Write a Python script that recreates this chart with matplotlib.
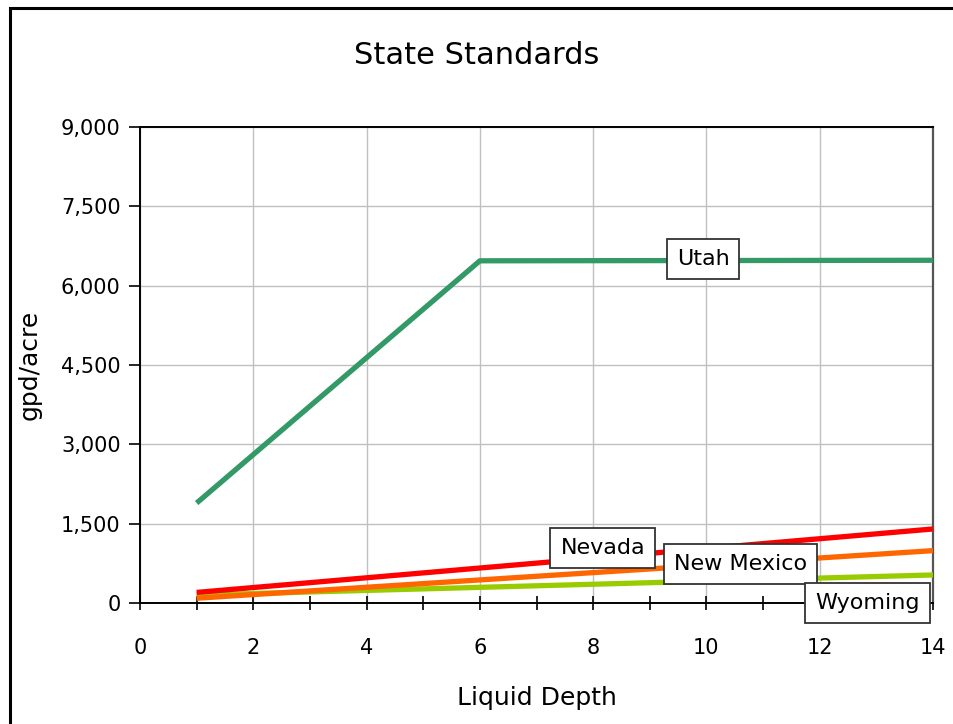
import matplotlib
matplotlib.use("Agg")
import matplotlib.pyplot as plt
from matplotlib.patches import Rectangle
from matplotlib.ticker import FuncFormatter, MultipleLocator

# data (liquid depth -> gpd/acre)
utah_x = [1, 6, 14]
utah_y = [1890, 6470, 6480]
nevada_x = [1, 14]
nevada_y = [200, 1400]
newmex_x = [1, 14]
newmex_y = [90, 990]
wyoming_x = [1, 14]
wyoming_y = [150, 530]

x_ticks = [0, 2, 4, 6, 8, 10, 12, 14]
y_ticks = [0, 1500, 3000, 4500, 6000, 7500, 9000]

# label box anchors (data coords)
label_pos = {
    "Utah": (9.94, 6500),
    "Nevada": (8.17, 1040),
    "New Mexico": (10.6, 740),
    "Wyoming": (12.84, 0),
}

fig = plt.figure(figsize=(9.54, 7.24), dpi=100)
fig.patch.set_facecolor("white")
# outer chart frame, runs off the right / bottom edge
fig.add_artist(Rectangle((10 / 954, -0.05), 1.1, 1 - 8 / 724 + 0.05,
                         transform=fig.transFigure, fill=False,
                         edgecolor="black", linewidth=2.2))

ax = fig.add_axes([140 / 954, 1 - 603 / 724, 793 / 954, 476 / 724])

series = [
    ("Utah", utah_x, utah_y, "#339966"),
    ("Nevada", nevada_x, nevada_y, "#FF0000"),
    ("New Mexico", newmex_x, newmex_y, "#FF6600"),
    ("Wyoming", wyoming_x, wyoming_y, "#99CC00"),
]
for name, xs, ys, col in [series[0], series[3], series[2], series[1]]:
    ax.plot(xs, ys, color=col, linewidth=3.8, solid_capstyle="butt", zorder=3)

for name, (lx, ly) in label_pos.items():
    ax.text(lx, ly, name, ha="center", va="center", fontsize=16, zorder=5,
            bbox=dict(boxstyle="square,pad=0.45", facecolor="white",
                      edgecolor="#333333", linewidth=1.3))

ax.set_xlim(0, 14)
ax.set_ylim(0, 9000)
ax.set_xticks(x_ticks)
ax.xaxis.set_minor_locator(MultipleLocator(1))
ax.set_yticks(y_ticks)
ax.yaxis.set_major_formatter(FuncFormatter(lambda v, p: f"{int(v):,}"))
ax.grid(True, which="major", color="#c0c0c0", linewidth=1.0, zorder=0)
ax.set_axisbelow(True)

ax.tick_params(axis="x", which="both", direction="inout", length=10,
               width=1.2, labelsize=15, pad=20)
ax.tick_params(axis="y", direction="out", length=8, width=1.2,
               labelsize=15, pad=6)
for s in ["left", "bottom", "top"]:
    ax.spines[s].set_color("black")
    ax.spines[s].set_linewidth(1.4)
ax.spines["right"].set_color("#555555")
ax.spines["right"].set_linewidth(1.6)

ax.set_xlabel("Liquid Depth", fontsize=18, labelpad=20)
ax.set_ylabel("gpd/acre", fontsize=18, labelpad=14)
fig.text(0.5, 1 - 56 / 724, "State Standards", ha="center", va="center",
         fontsize=22)

fig.savefig("out.png", dpi=100, facecolor="white")
plt.close(fig)
